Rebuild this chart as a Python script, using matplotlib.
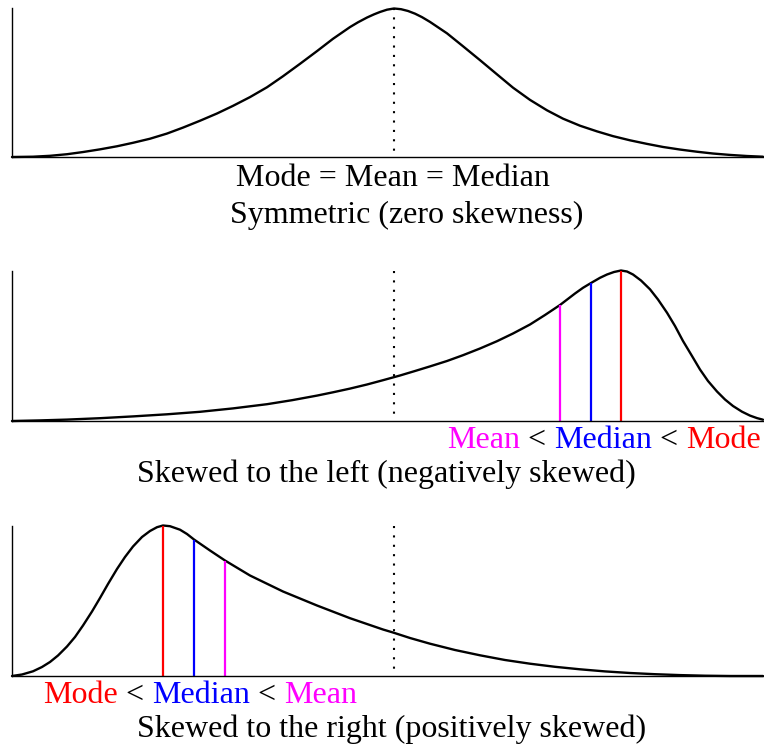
import matplotlib
matplotlib.use("Agg")
import matplotlib.pyplot as plt

plt.rcParams['font.family'] = ['Liberation Serif', 'DejaVu Serif']

# ---------------- data ----------------
# horizontal position along the axis, curve height above the baseline
sym_x = [12, 33, 50, 67, 83, 100, 117, 133, 150, 167, 183, 200, 217, 233, 250,
         267, 283, 300, 317, 333, 350, 358, 367, 374, 380, 387, 394,
         401, 408, 415, 422, 430, 447, 463, 480, 497, 513, 530, 547, 563,
         580, 597, 613, 630, 647, 663, 680, 697, 713, 730, 747, 763]
sym_y = [0, 0.3, 1.2, 2.8, 5, 7.7, 10.8, 14.3, 18.4, 23.6, 29.6, 36.5, 43.8, 51.5, 60.3,
         70.2, 81.3, 93.8, 106.6, 119, 130.8, 135.6, 140.4, 143.6, 146, 148.3, 149.5,
         148.8, 147, 144.3, 140.8, 136, 124.5, 111.5, 97.5, 83.2, 69.8, 57.5, 47, 38.6,
         31.5, 25.8, 21, 16.8, 13.2, 10.1, 7.5, 5.3, 3.5, 2.1, 1, 0.3]

left_x = [12, 40, 67, 100, 133, 167, 200, 233, 267, 292, 317, 333, 350, 367, 383,
          400, 415, 430, 447, 463, 480, 497, 513, 530, 545, 560, 575, 583, 591,
          600, 607, 614, 621, 627, 633, 641, 650, 658, 667, 675, 683, 692, 700,
          708, 717, 725, 733, 742, 750, 757, 763]
left_y = [0, 0.6, 1.4, 2.8, 4.6, 6.7, 9.2, 12.6, 16.8, 20.8, 25.4, 28.7, 32.4, 36.5, 40.8,
          45.5, 50, 54.6, 60, 65.8, 72.5, 79.8, 87.5, 96.5, 106, 116, 127.5, 133.2, 138,
          143.2, 146.5, 149, 150.5, 149.5, 146.5, 140.5, 131.7, 121.5, 108.3, 95, 80, 65, 51.5,
          40, 29.5, 21.5, 15, 9.3, 5.4, 2.9, 1.3]

right_x = [12, 22, 33, 42, 50, 58, 67, 75, 83, 92, 100, 108, 117, 125, 133, 142,
           150, 157, 163, 170, 180, 187, 194, 210, 225, 250, 283, 317, 350, 383, 393,
           410, 430, 455, 480, 505, 530, 555, 580, 605, 630, 655, 680, 705, 730, 763]
right_y = [0, 1.5, 4.7, 9, 14, 20.5, 29.5, 39, 50.5, 64.5, 78, 92, 107, 119, 129.5, 139,
           145, 148.8, 150.5, 149.8, 146.3, 142, 136.5, 125.5, 115.5, 100.5, 84.5, 70.5, 57.8, 46.5, 43.5,
           38, 32.3, 26, 20.7, 16, 12.3, 9.2, 6.7, 4.6, 3, 1.8, 0.9, 0.3, 0, 0]

center_x = [394, 393.5, 393.7]          # dotted reference line in each panel

left_marks_x = [560, 591, 621]          # Mean, Median, Mode
left_marks_y = [116, 138, 150.5]
right_marks_x = [163.3, 194.3, 225]     # Mode, Median, Mean
right_marks_y = [150.5, 136.3, 115.5]

MAGENTA, BLUE, RED = '#ff00ff', '#0000ff', '#ff0000'

# ---------------- figure ----------------
W, H = 764, 746
fig = plt.figure(figsize=(W / 100, H / 100), dpi=100)


def make_axes(top, bottom, left=11.5, right=764):
    ax = fig.add_axes([left / W, 1 - bottom / H, (right - left) / W, (bottom - top) / H])
    ax.set_xlim(left, right)
    ax.set_ylim(0, 150)
    for s in ('top', 'right'):
        ax.spines[s].set_visible(False)
    for s in ('left', 'bottom'):
        ax.spines[s].set_linewidth(1.0)
        ax.spines[s].set_color('black')
    ax.set_xticks([])
    ax.set_yticks([])
    ax.patch.set_alpha(0)
    return ax


ax1 = make_axes(8, 157)
ax2 = make_axes(271, 421)
ax3 = make_axes(526, 676)

for ax, xs, ys, cx in ((ax1, sym_x, sym_y, center_x[0]),
                       (ax2, left_x, left_y, center_x[1]),
                       (ax3, right_x, right_y, center_x[2])):
    # drawn from the top down so the dot pattern starts at the top of the axes
    ax.axvline(cx, ymin=1, ymax=0, color='black', lw=1.5,
               linestyle=(0, (1, 3.5)), dash_capstyle='butt')
    ax.plot(xs, ys, color='black', lw=1.7, clip_on=False,
            solid_joinstyle='round', solid_capstyle='round')

for x, y, c in zip(left_marks_x, left_marks_y, [MAGENTA, BLUE, RED]):
    ax2.plot([x, x], [0, y], color=c, lw=1.6, solid_capstyle='butt')
for x, y, c in zip(right_marks_x, right_marks_y, [RED, BLUE, MAGENTA]):
    ax3.plot([x, x], [0, y], color=c, lw=1.6, solid_capstyle='butt')

FS = 23


def ftext(x, y, s, **kw):
    return fig.text(x / W, 1 - y / H, s, fontsize=FS, va='baseline', **kw)


def chain(x, y, pieces):
    prev = ftext(x, y, pieces[0][0], color=pieces[0][1], ha='left')
    for s, c in pieces[1:]:
        prev = ax1.annotate(s, xy=(1, 0), xycoords=prev, xytext=(0, 0),
                            textcoords='offset points', va='bottom', ha='left',
                            fontsize=FS, color=c, annotation_clip=False)
    return prev


# panel 1 texts
ftext(393, 186, 'Mode = Mean = Median', ha='center', color='black')
ftext(407, 223, 'Symmetric (zero skewness)', ha='center', color='black')

# panel 2 texts
chain(446.7, 448.3, [('Mean', MAGENTA), (' < ', 'black'), ('Median', BLUE),
                     (' < ', 'black'), ('Mode', RED)])
ftext(137, 482, 'Skewed to the left (negatively skewed)', ha='left', color='black')

# panel 3 texts
chain(43.3, 703.3, [('Mode', RED), (' < ', 'black'), ('Median', BLUE),
                    (' < ', 'black'), ('Mean', MAGENTA)])
ftext(136.7, 736.7, 'Skewed to the right (positively skewed)', ha='left', color='black')

fig.savefig('out.png', dpi=100)
